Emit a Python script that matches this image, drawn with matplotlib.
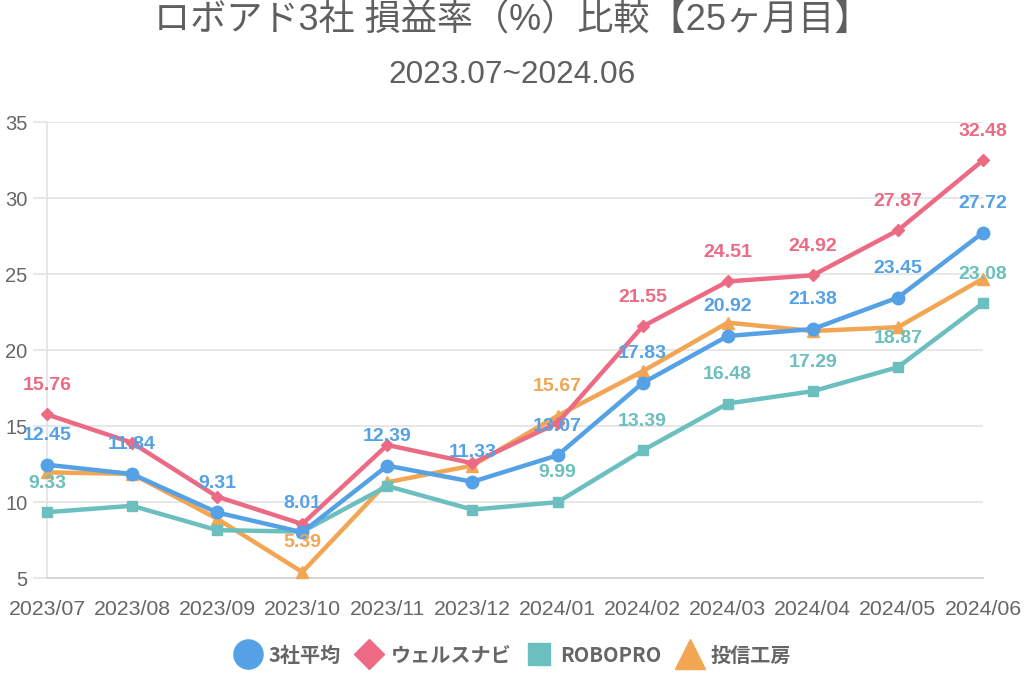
import matplotlib
matplotlib.use('Agg')
import matplotlib.pyplot as plt
from matplotlib.lines import Line2D

plt.rcParams['font.family'] = ['Liberation Sans', 'Noto Sans CJK JP', 'DejaVu Sans']

# data
months = ['2023/07', '2023/08', '2023/09', '2023/10', '2023/11', '2023/12',
          '2024/01', '2024/02', '2024/03', '2024/04', '2024/05', '2024/06']

avg3 = [12.45, 11.84, 9.31, 8.01, 12.39, 11.33, 13.07, 17.83, 20.92, 21.38, 23.45, 27.72]
wealthnavi = [15.76, 13.90, 10.35, 8.55, 13.75, 12.55, 15.20, 21.55, 24.51, 24.92, 27.87, 32.48]
robopro = [9.33, 9.75, 8.15, 8.05, 11.05, 9.50, 9.99, 13.39, 16.48, 17.29, 18.87, 23.08]
toushin = [11.95, 11.85, 8.90, 5.39, 11.30, 12.40, 15.67, 18.60, 21.80, 21.25, 21.50, 24.70]

# which points carry a visible value label
avg3_lbl = list(range(12))
wealthnavi_lbl = [0, 7, 8, 9, 10, 11]
robopro_lbl = [0, 6, 7, 8, 9, 10, 11]
toushin_lbl = [3, 6]

names = ['3社平均', 'ウェルスナビ', 'ROBOPRO', '投信工房']

BLUE = '#55a1e6'
RED = '#ec6a84'
TEAL = '#6bbfbe'
ORANGE = '#f2a553'
GRAY = '#666666'
CJK = ['Noto Sans CJK JP', 'DejaVu Sans']

fig = plt.figure(figsize=(10.24, 6.83), dpi=100)
ax = fig.add_axes([47 / 1024, 1 - 578 / 683, 936 / 1024, 456 / 683])

x = list(range(len(months)))

# series: (values, colour, marker, size, zorder, labelled points)
series = [
    (toushin, ORANGE, '^', 9, 3, toushin_lbl),
    (robopro, TEAL, 's', 7, 4, robopro_lbl),
    (wealthnavi, RED, 'D', 6.5, 5, wealthnavi_lbl),
    (avg3, BLUE, 'o', 9, 6, avg3_lbl),
]

for vals, col, mk, ms, z, lbl in series:
    ax.plot(x, vals, color=col, lw=3.2, marker=mk, ms=ms, zorder=z,
            solid_joinstyle='round', clip_on=False)
    for i in lbl:
        ax.annotate(f'{vals[i]:.2f}', (x[i], vals[i]), xytext=(0, 21),
                    textcoords='offset points', ha='center', va='center',
                    color=col, fontsize=14, fontweight='bold', zorder=10)

ax.set_xlim(0, 11)
ax.set_ylim(5, 35)
ax.set_yticks([5, 10, 15, 20, 25, 30, 35])
ax.set_xticks(x)
ax.set_xticklabels(months)

ax.grid(axis='y', color='#e3e3e3', lw=1.2)
ax.set_axisbelow(True)
for s in ['top', 'right']:
    ax.spines[s].set_visible(False)
ax.spines['left'].set_color('#e3e3e3')
ax.spines['left'].set_linewidth(1.2)
ax.spines['bottom'].set_color('#d0d0d0')
ax.spines['bottom'].set_linewidth(1.2)

ax.tick_params(axis='y', length=10, color='#e3e3e3', width=1.2, pad=4,
               labelsize=14.5, labelcolor=GRAY)
ax.tick_params(axis='x', length=0, pad=16, labelsize=15.3, labelcolor=GRAY)

fig.text(0.5, 1 - 21 / 683, 'ロボアド3社 損益率（%）比較【25ヶ月目】',
         ha='center', va='center', fontsize=26, color='#5f5f5f',
         family=['Liberation Sans', 'Noto Sans CJK JP', 'DejaVu Sans'])
fig.text(0.5, 1 - 75 / 683, '2023.07~2024.06', ha='center', va='center',
         fontsize=22.7, color='#5f5f5f', family=['Liberation Sans', 'DejaVu Sans'])

handles = [
    Line2D([], [], ls='none', marker='o', ms=21, color=BLUE),
    Line2D([], [], ls='none', marker='D', ms=15, color=RED),
    Line2D([], [], ls='none', marker='s', ms=16.5, color=TEAL),
    Line2D([], [], ls='none', marker='^', ms=21, color=ORANGE),
]
leg = fig.legend(handles, names, loc='center', bbox_to_anchor=(0.5, 1 - 655 / 683),
                 ncol=4, frameon=False, handlelength=1.5, handletextpad=0.3,
                 columnspacing=0.65,
                 prop={'family': CJK, 'weight': 'bold', 'size': 14.5})
for t in leg.get_texts():
    t.set_color(GRAY)

fig.savefig('out.png', dpi=100)
